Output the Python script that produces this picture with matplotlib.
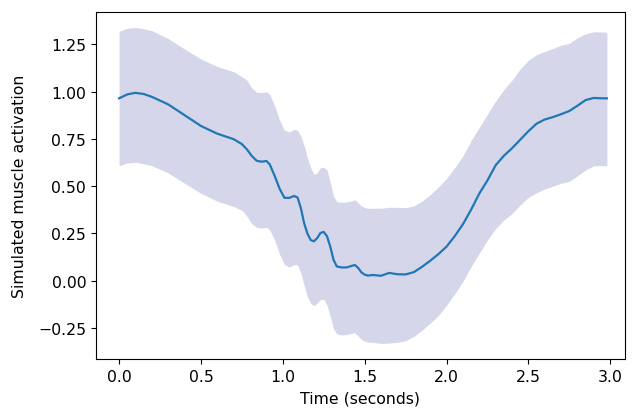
import matplotlib
matplotlib.use("Agg")
import matplotlib.pyplot as plt

# Simulated muscle activation: mean trace with its spread band
time_s = [
    0.00, 0.05, 0.10, 0.15, 0.20, 0.30, 0.40, 0.50, 0.60, 0.70,
    0.75, 0.78, 0.81, 0.84, 0.87, 0.90, 0.92, 0.95, 0.98, 1.01,
    1.04, 1.07, 1.09, 1.11, 1.13, 1.15, 1.17, 1.19, 1.21, 1.23,
    1.25, 1.27, 1.29, 1.31, 1.33, 1.36, 1.39, 1.42, 1.44, 1.46,
    1.48, 1.50, 1.52, 1.55, 1.60, 1.65, 1.70, 1.75, 1.80, 1.85,
    1.90, 1.95, 2.00, 2.05, 2.10, 2.15, 2.20, 2.25, 2.30, 2.35,
    2.40, 2.45, 2.50, 2.55, 2.60, 2.65, 2.70, 2.75, 2.80, 2.85,
    2.90, 2.95, 2.98,
]

activation_mean = [
    0.964, 0.985, 0.993, 0.987, 0.972, 0.932, 0.875, 0.818, 0.777, 0.748,
    0.722, 0.695, 0.660, 0.634, 0.629, 0.633, 0.615, 0.555, 0.487, 0.438,
    0.438, 0.448, 0.440, 0.385, 0.305, 0.250, 0.215, 0.208, 0.225, 0.252,
    0.258, 0.235, 0.180, 0.110, 0.075, 0.070, 0.070, 0.078, 0.083, 0.068,
    0.044, 0.032, 0.027, 0.030, 0.026, 0.041, 0.034, 0.033, 0.045, 0.073,
    0.105, 0.140, 0.180, 0.235, 0.298, 0.375, 0.460, 0.530, 0.610, 0.660,
    0.700, 0.745, 0.790, 0.830, 0.852, 0.865, 0.880, 0.897, 0.925, 0.955,
    0.966, 0.964, 0.964,
]

activation_upper = [
    1.318, 1.335, 1.339, 1.332, 1.322, 1.280, 1.225, 1.172, 1.132, 1.105,
    1.078, 1.060, 1.020, 0.996, 0.994, 1.000, 0.985, 0.925, 0.850, 0.795,
    0.786, 0.800, 0.795, 0.765, 0.715, 0.650, 0.598, 0.562, 0.570, 0.598,
    0.600, 0.585, 0.520, 0.445, 0.418, 0.414, 0.416, 0.422, 0.428, 0.412,
    0.395, 0.386, 0.383, 0.383, 0.383, 0.388, 0.388, 0.386, 0.395, 0.420,
    0.455, 0.495, 0.540, 0.598, 0.660, 0.740, 0.810, 0.880, 0.950, 1.010,
    1.060, 1.120, 1.165, 1.195, 1.212, 1.228, 1.245, 1.255, 1.285, 1.305,
    1.316, 1.315, 1.313,
]

activation_lower = [
    0.608, 0.622, 0.626, 0.618, 0.608, 0.570, 0.515, 0.462, 0.420, 0.392,
    0.372, 0.342, 0.302, 0.282, 0.278, 0.282, 0.268, 0.215, 0.140, 0.085,
    0.072, 0.085, 0.083, 0.040, -0.025, -0.085, -0.120, -0.132, -0.120, -0.100,
    -0.098, -0.130, -0.190, -0.255, -0.282, -0.287, -0.285, -0.278, -0.276, -0.292,
    -0.310, -0.320, -0.325, -0.326, -0.332, -0.330, -0.326, -0.318, -0.295, -0.262,
    -0.225, -0.185, -0.130, -0.070, -0.005, 0.075, 0.145, 0.215, 0.275, 0.320,
    0.355, 0.400, 0.440, 0.465, 0.485, 0.500, 0.515, 0.525, 0.555, 0.585,
    0.608, 0.608, 0.608,
]

plt.rcParams["font.size"] = 11.3

fig = plt.figure(figsize=(6.39, 4.10), dpi=100)
ax = fig.add_axes([0.150, 0.122, 0.828, 0.847])

ax.fill_between(time_s, activation_lower, activation_upper,
                color=(0.2, 0.2, 0.6), alpha=0.2, linewidth=0)
ax.plot(time_s, activation_mean, color="#1f77b4", linewidth=1.6,
        solid_joinstyle="round")

ax.set_xlim(-0.142, 3.09)
ax.set_ylim(-0.414, 1.422)
ax.set_xticks([0.0, 0.5, 1.0, 1.5, 2.0, 2.5, 3.0])
ax.set_yticks([-0.25, 0.0, 0.25, 0.5, 0.75, 1.0, 1.25])
ax.set_xlabel("Time (seconds)", labelpad=5)
ax.set_ylabel("Simulated muscle activation", labelpad=8)

fig.savefig("out.png", dpi=100)
